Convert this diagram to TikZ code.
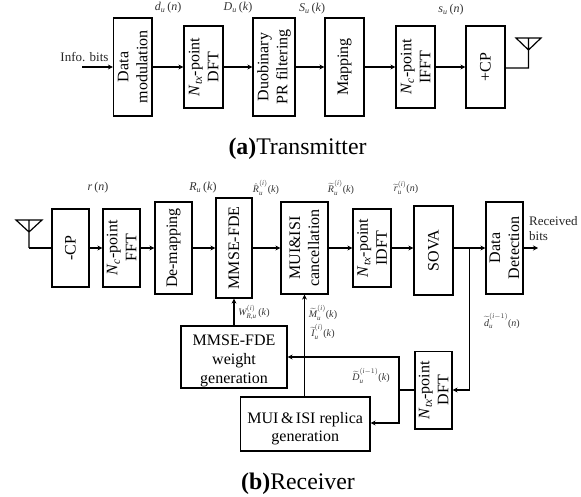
\documentclass[tikz,border=0pt]{standalone}
\usepackage{amsmath}
\usepackage{fontspec}
\setmainfont{Liberation Serif}
\usetikzlibrary{arrows.meta}
\newcommand{\tl}[1]{\widetilde{#1}}
\newcommand{\iv}[1]{\textit{#1}}
\newcommand{\Ntx}{\iv{N}$_{\iv{tx}}$}
\newcommand{\Nc}{\iv{N}$_{\iv{c}}$}
\tikzset{x=1pt,y=-1pt,
 blk/.style={draw,line width=1.2pt,inner sep=0pt,font=\fontsize{16}{19}\selectfont,align=center},
 vblk/.style={blk,rotate=90},
 wire/.style={line width=1.2pt},
 arr/.style={wire,-{Stealth[length=5pt,width=5pt]}},
 sig/.style={font=\fontsize{10}{10}\selectfont,inner sep=0pt,text=black!80},
 sigs/.style={font=\fontsize{12}{12}\selectfont,inner sep=0pt,text=black!80},
 plain/.style={font=\fontsize{13}{15}\selectfont,inner sep=0pt,text=black!85},
 capt/.style={font=\fontsize{23.8}{25}\selectfont,inner sep=0pt}}
\newcommand{\vb}[6]{\node[vblk,minimum width=#5-#4,minimum height=#3-#2] (#1) at ({(#2+#3)/2},{(#4+#5)/2}) {#6};}
\begin{document}
\begin{tikzpicture}
\useasboundingbox (0,0) rectangle (581,497);
\vb{dm}{113.5}{152}{18}{116}{Data\\modulation}
\vb{dft}{184}{223}{26}{108}{\Ntx-point\\DFT}
\vb{pr}{253}{295}{18}{116}{Duobinary\\PR filtering}
\vb{map}{325}{364}{18}{116}{Mapping}
\vb{ifft}{396}{435}{26}{108}{\Nc-point\\IFFT}
\vb{cp}{466}{505}{26}{108}{+CP}
\coordinate (in) at (82,67);
\coordinate (ta) at (528.5,68);
\draw[arr] (in) -- (in-|dm.north);
\draw[arr] (dm.south|-in) -- (dft.north|-in);
\draw[arr] (dft.south|-in) -- (pr.north|-in);
\draw[arr] (pr.south|-in) -- (map.north|-in);
\draw[arr] (map.south|-in) -- (ifft.north|-in);
\draw[arr] (ifft.south|-in) -- (cp.north|-in);
\draw[wire] (cp.south|-ta) -- (ta) -- ++(0,-30) ++(-12.5,0) -- ++(25,0) -- (528.5,50) -- cycle;
\node[plain] (ib) at (84.5,57) {Info. bits};
\node[sigs] (l1) at (168,8) {$\iv{d}_{\iv{u}}$\,(\iv{n})};
\node[sigs] (l2) at (238,8) {$\iv{D}_{\iv{u}}$\,(\iv{k})};
\node[sigs] (l3) at (312,9) {$\iv{S}_{\iv{u}}$\,(\iv{k})};
\node[sigs] (l4) at (451,9.5) {$\iv{s}_{\iv{u}}$\,(\iv{n})};
\node[capt] (ca) at (297.5,149) {\textbf{(a)}Transmitter};
% receiver
\vb{rcp}{52}{89}{209}{287}{-CP}
\vb{fft}{103}{140}{209}{287}{\Nc-point\\FFT}
\vb{dem}{155}{192}{202}{294}{De-mapping}
\vb{fde}{216}{252}{198}{298}{MMSE-FDE}
\vb{can}{281}{328}{202}{294}{MUI\&ISI\\cancellation}
\vb{idft}{353}{391}{209}{287}{\Ntx-point\\IDFT}
\vb{sova}{414}{453}{206}{295}{SOVA}
\vb{det}{486}{523}{202}{294}{Data\\Detection}
\vb{fb}{415}{452}{351.5}{429}{\Ntx-point\\DFT}
\node[blk,minimum width=106pt,minimum height=62pt] (wg) at (234,357) {\rule{0pt}{18pt}MMSE-FDE\\weight\\generation};
\node[blk,minimum width=129.5pt,minimum height=54pt,font=\fontsize{16}{18}\selectfont] (rg) at (305.25,424) {\rule{0pt}{20pt}MUI\kern2.5pt\&\kern2.5pt ISI replica\\generation};
\coordinate (rr) at (0,248);
\coordinate (ra) at (29,248);
\coordinate (out) at (538,248);
\coordinate (br) at (469.5,248);
\coordinate (fbin) at (469.5,390);
\coordinate (c1) at (399,357);
\coordinate (c2) at (399,423);
\coordinate (c3) at (399,390);
\draw[wire] (ra) -- (rcp.north|-rr);
\draw[wire] (ra) -- ++(0,-28) ++(-13,0) -- ++(26,0) -- (29,232) -- cycle;
\draw[arr] (rcp.south|-rr) -- (fft.north|-rr);
\draw[arr] (fft.south|-rr) -- (dem.north|-rr);
\draw[arr] (dem.south|-rr) -- (fde.north|-rr);
\draw[arr] (fde.south|-rr) -- (can.north|-rr);
\draw[arr] (can.south|-rr) -- (idft.north|-rr);
\draw[arr] (idft.south|-rr) -- (sova.north|-rr);
\draw[arr] (sova.south|-rr) -- (det.north|-rr);
\draw[arr] (det.south|-rr) -- (out);
\draw[arr] (wg.north) -- (fde.west);
\draw[arr] (rg.north-|can.center) -- (can.west);
\draw[arr] (br) -- (fbin) -- (fb.south|-fbin);
\draw[wire] (fb.north|-c3) -- (c3);
\draw[arr] (c3) -- (c1) -- (wg.east|-c1);
\draw[arr] (c3) -- (c2) -- (rg.east|-c2);
\node[sigs] (r1) at (98,188) {\iv{r}\,(\iv{n})};
\node[sigs] (r2) at (203,188) {$\iv{R}_{\iv{u}}$\,(\iv{k})};
\node[sig] (r3) at (266,188) {$\hat{\iv{R}}_{\iv{u}}^{(\iv{i})}$(\iv{k})};
\node[sig] (r4) at (341,188) {$\tl{\iv{R}}_{\iv{u}}^{(\iv{i})}$(\iv{k})};
\node[sig] (r5) at (406,188) {$\tl{\iv{r}}_{\iv{u}}^{(\iv{i})}$(\iv{n})};
\node[plain,align=left,anchor=west] (r6) at (529,228.5) {Received\\bits};
\node[sig] (r7) at (502,321) {$\tl{\iv{d}}_{\iv{u}}^{(\iv{i}-1)}$(\iv{n})};
\node[sig] (r8) at (254,312) {$\iv{W}_{\iv{R,u}}^{(\iv{i})}$\,(\iv{k})};
\node[sig] (r9) at (323,313) {$\tl{\iv{M}}_{\iv{u}}^{(\iv{i})}$(\iv{k})};
\node[sig] (r10) at (323,332) {$\tl{\iv{I}}_{\iv{u}}^{(\iv{i})}$(\iv{k})};
\node[sig] (r11) at (371,376) {$\tl{\iv{D}}_{\iv{u}}^{(\iv{i}-1)}$(\iv{k})};
\node[capt] (cb) at (298,484) {\textbf{(b)}Receiver};
\end{tikzpicture}
\end{document}
